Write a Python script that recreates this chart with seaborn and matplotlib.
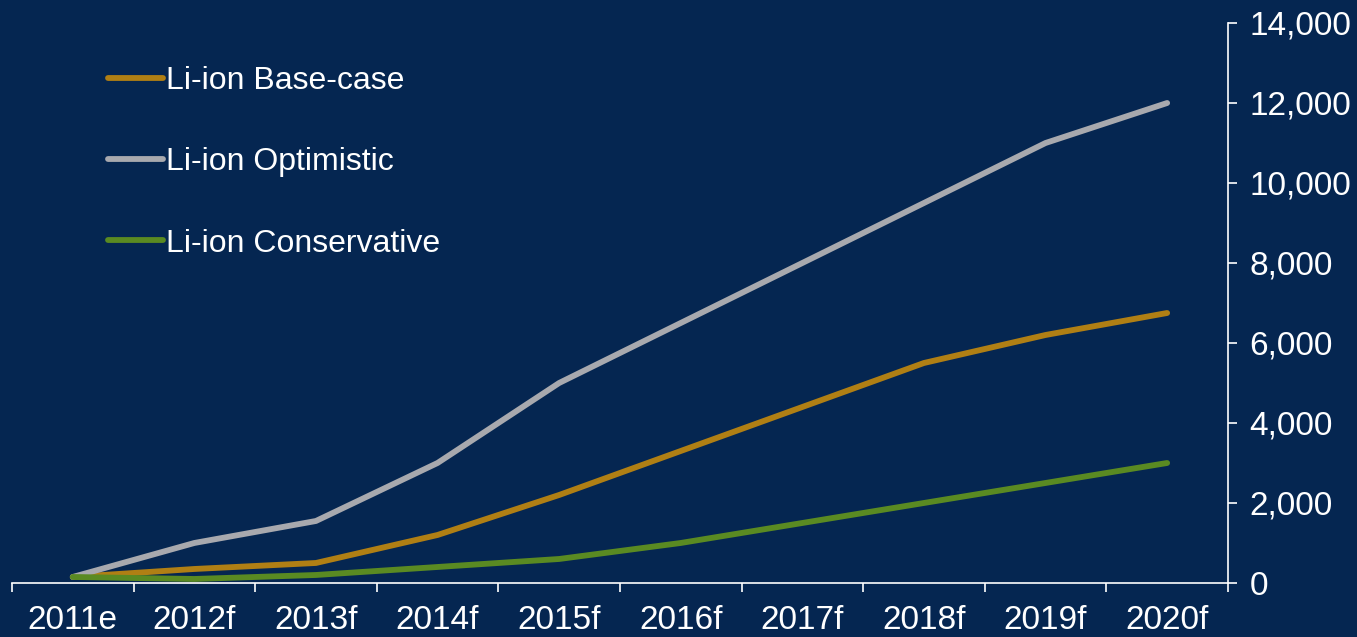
import numpy as np
import pandas as pd
import matplotlib
matplotlib.use("Agg")
import matplotlib.pyplot as plt
import seaborn as sns

# data
years = ["2011e", "2012f", "2013f", "2014f", "2015f", "2016f", "2017f", "2018f", "2019f", "2020f"]
base_case = [150, 350, 500, 1200, 2200, 3300, 4400, 5500, 6200, 6750]
optimistic = [150, 1000, 1550, 3000, 5000, 6500, 8000, 9500, 11000, 12000]
conservative = [150, 100, 200, 400, 600, 1000, 1500, 2000, 2500, 3000]
series_names = ["Li-ion Base-case", "Li-ion Optimistic", "Li-ion Conservative"]
y_ticks = [0, 2000, 4000, 6000, 8000, 10000, 12000, 14000]

bg = "#052651"
colors = {"Li-ion Base-case": "#b07f14",
          "Li-ion Optimistic": "#a8a9ae",
          "Li-ion Conservative": "#5a8a22"}

df = pd.DataFrame({"year": years * 3,
                   "value": base_case + optimistic + conservative,
                   "series": np.repeat(series_names, len(years))})

sns.set_style("white")
plt.rcParams['font.family'] = ['Liberation Sans', 'DejaVu Sans']

fig = plt.figure(figsize=(13.57, 6.37), dpi=100, facecolor=bg)
ax = fig.add_axes([0.0088, 0.0848, 0.8961, 0.8791])
ax.set_facecolor(bg)

sns.lineplot(data=df, x="year", y="value", hue="series", palette=colors,
             hue_order=series_names, sort=False, linewidth=4.2, ax=ax)
for ln in ax.get_lines():
    ln.set_solid_capstyle("round")

n = len(years)
ax.set_xlim(-0.5, n - 0.5)
ax.set_ylim(y_ticks[0], y_ticks[-1])

# category boundaries get the tick marks, centres get the labels
ax.set_xticks(np.arange(n + 1) - 0.5)
ax.set_xticklabels([])
ax.set_xticks(np.arange(n), minor=True)
ax.set_xticklabels(years, minor=True)
ax.tick_params(axis="x", which="major", direction="out", length=6.5, width=1.2,
               color="white", bottom=True)
ax.tick_params(axis="x", which="minor", length=0, pad=16, labelsize=24, labelcolor="white")

ax.yaxis.tick_right()
ax.set_yticks(y_ticks)
ax.set_yticklabels([f"{v:,}" for v in y_ticks])
ax.tick_params(axis="y", direction="out", length=6.5, width=1.2, color="white",
               pad=9, labelsize=24, labelcolor="white", right=True, left=False)

for side in ["left", "top"]:
    ax.spines[side].set_visible(False)
for side in ["right", "bottom"]:
    ax.spines[side].set_color("white")
    ax.spines[side].set_linewidth(1.2)

ax.set_xlabel("")
ax.set_ylabel("")

leg = ax.legend(loc="upper left", bbox_to_anchor=(0.055, 0.975), frameon=False,
                fontsize=23, handlelength=1.72, handletextpad=0.1, labelspacing=1.61)
for txt in leg.get_texts():
    txt.set_color("white")
for h in leg.legend_handles:
    h.set_linewidth(4.2)
    h.set_solid_capstyle("round")

fig.savefig("out.png", dpi=100, facecolor=bg)
